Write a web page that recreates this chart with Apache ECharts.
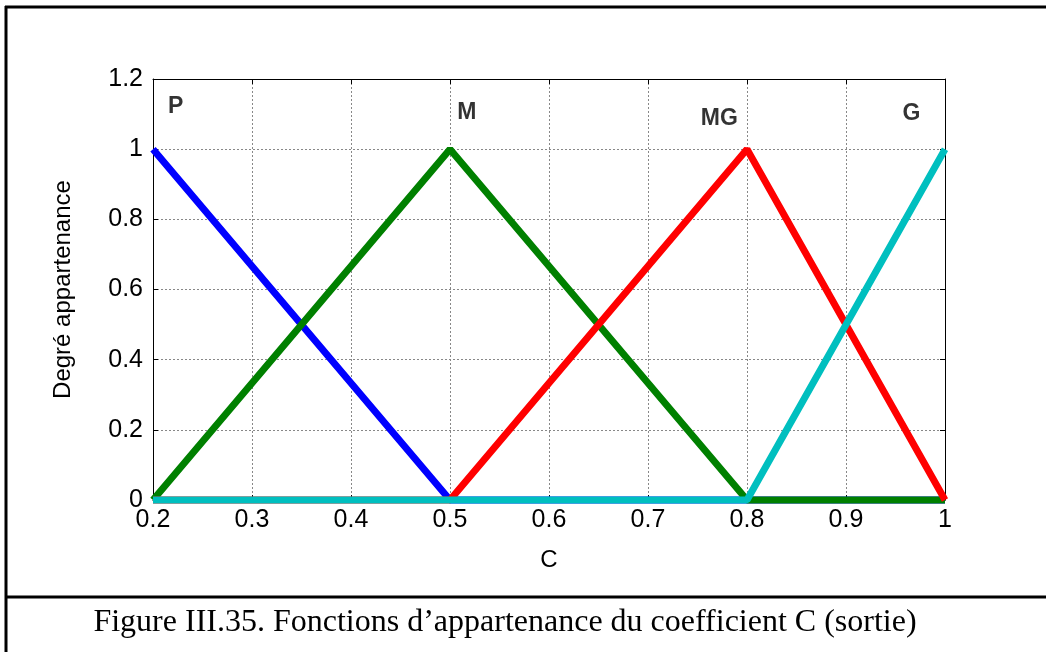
<!DOCTYPE html>
<html>
<head>
<meta charset="utf-8">
<script src="https://cdn.jsdelivr.net/npm/echarts@6/dist/echarts.min.js"></script>
<style>
html, body { margin: 0; padding: 0; background: #fff; }
#main { width: 1046px; height: 652px; }
</style>
</head>
<body>
<div id="main"></div>
<script>
// fonctions d'appartenance (C, degré)
var serieP  = [[0.2, 1], [0.5, 0], [1, 0]];
var serieM  = [[0.2, 0], [0.5, 1], [0.8, 0], [1, 0]];
var serieMG = [[0.2, 0], [0.5, 0], [0.8, 1], [1, 0]];
var serieG  = [[0.2, 0], [0.8, 0], [1, 1]];
var nomsSeries = ['P', 'M', 'MG', 'G'];
var couleurs = ['#0000ff', '#008000', '#ff0000', '#00bfbf'];
// position des étiquettes (coordonnées des données)
var etiquettes = [[0.223, 1.12, 'P'], [0.517, 1.105, 'M'], [0.772, 1.088, 'MG'], [0.966, 1.1, 'G']];
var xMin = 0.2, xMax = 1, xPas = 0.1;
var yMin = 0, yMax = 1.2, yPas = 0.2;
var legende = 'Figure III.35. Fonctions d\u2019appartenance du coefficient C (sortie)';

var dom = document.getElementById('main');
var myChart = echarts.init(dom);

var fmt = function (v) { return String(+v.toFixed(1)); };
var police = 'Liberation Sans, Arial, sans-serif';

var axeX = function (pos, montrer) {
    return {
        type: 'value', position: pos, min: xMin, max: xMax, interval: xPas,
        axisLine: { show: true, onZero: false, lineStyle: { color: '#000', width: 1 } },
        axisTick: { show: true, inside: true, length: 5, lineStyle: { color: '#000' } },
        axisLabel: { show: montrer, formatter: fmt, color: '#000', fontSize: 25, fontFamily: police, margin: 8 },
        splitLine: { show: montrer, lineStyle: { color: '#888', type: [2, 2], width: 1 } }
    };
};
var axeY = function (pos, montrer) {
    return {
        type: 'value', position: pos, min: yMin, max: yMax, interval: yPas,
        axisLine: { show: true, onZero: false, lineStyle: { color: '#000', width: 1 } },
        axisTick: { show: true, inside: true, length: 5, lineStyle: { color: '#000' } },
        axisLabel: { show: montrer, formatter: fmt, color: '#000', fontSize: 25, fontFamily: police, margin: 10 },
        splitLine: { show: montrer, lineStyle: { color: '#888', type: [2, 2], width: 1 } }
    };
};

var xs = [axeX('bottom', true), axeX('top', false)];
xs[0].name = 'C';
xs[0].nameLocation = 'middle';
xs[0].nameGap = 48;
xs[0].nameTextStyle = { color: '#000', fontSize: 24, fontFamily: police };
var ys = [axeY('left', true), axeY('right', false)];
ys[0].name = 'Degré appartenance';
ys[0].nameLocation = 'middle';
ys[0].nameGap = 78;
ys[0].nameTextStyle = { color: '#000', fontSize: 24, fontFamily: police };

var donnees = [serieP, serieM, serieMG, serieG];
var series = donnees.map(function (d, i) {
    return {
        name: nomsSeries[i], type: 'line', data: d, xAxisIndex: 0, yAxisIndex: 0,
        symbol: 'none', clip: false, animation: false,
        lineStyle: { color: couleurs[i], width: 7 }
    };
});
series.push({
    type: 'scatter', symbolSize: 0, animation: false, silent: true,
    itemStyle: { color: 'transparent' },
    data: etiquettes.map(function (e) { return { value: [e[0], e[1]], name: e[2] }; }),
    label: { show: true, position: 'inside', formatter: '{b}', color: '#000',
             textBorderWidth: 0, fontSize: 23, fontWeight: 'bold', fontFamily: police }
});

option = {
    backgroundColor: '#fff',
    animation: false,
    grid: { left: 153, right: 101, top: 79, bottom: 152, containLabel: false },
    xAxis: xs,
    yAxis: ys,
    series: series,
    graphic: [
        { type: 'line', shape: { x1: 6, y1: 6, x2: 6, y2: 652 }, style: { stroke: '#000', lineWidth: 3 } },
        { type: 'line', shape: { x1: 5, y1: 7, x2: 1046, y2: 7 }, style: { stroke: '#000', lineWidth: 3 } },
        { type: 'line', shape: { x1: 5, y1: 597, x2: 1046, y2: 597 }, style: { stroke: '#000', lineWidth: 3 } },
        { type: 'text', x: 505, y: 623,
          style: { text: legende, fill: '#000', font: '32px "Liberation Serif", serif', textAlign: 'center', textVerticalAlign: 'middle' } }
    ]
};
if (option && typeof option === "object") {
    myChart.setOption(option, true);
}
</script>
</body>
</html>
